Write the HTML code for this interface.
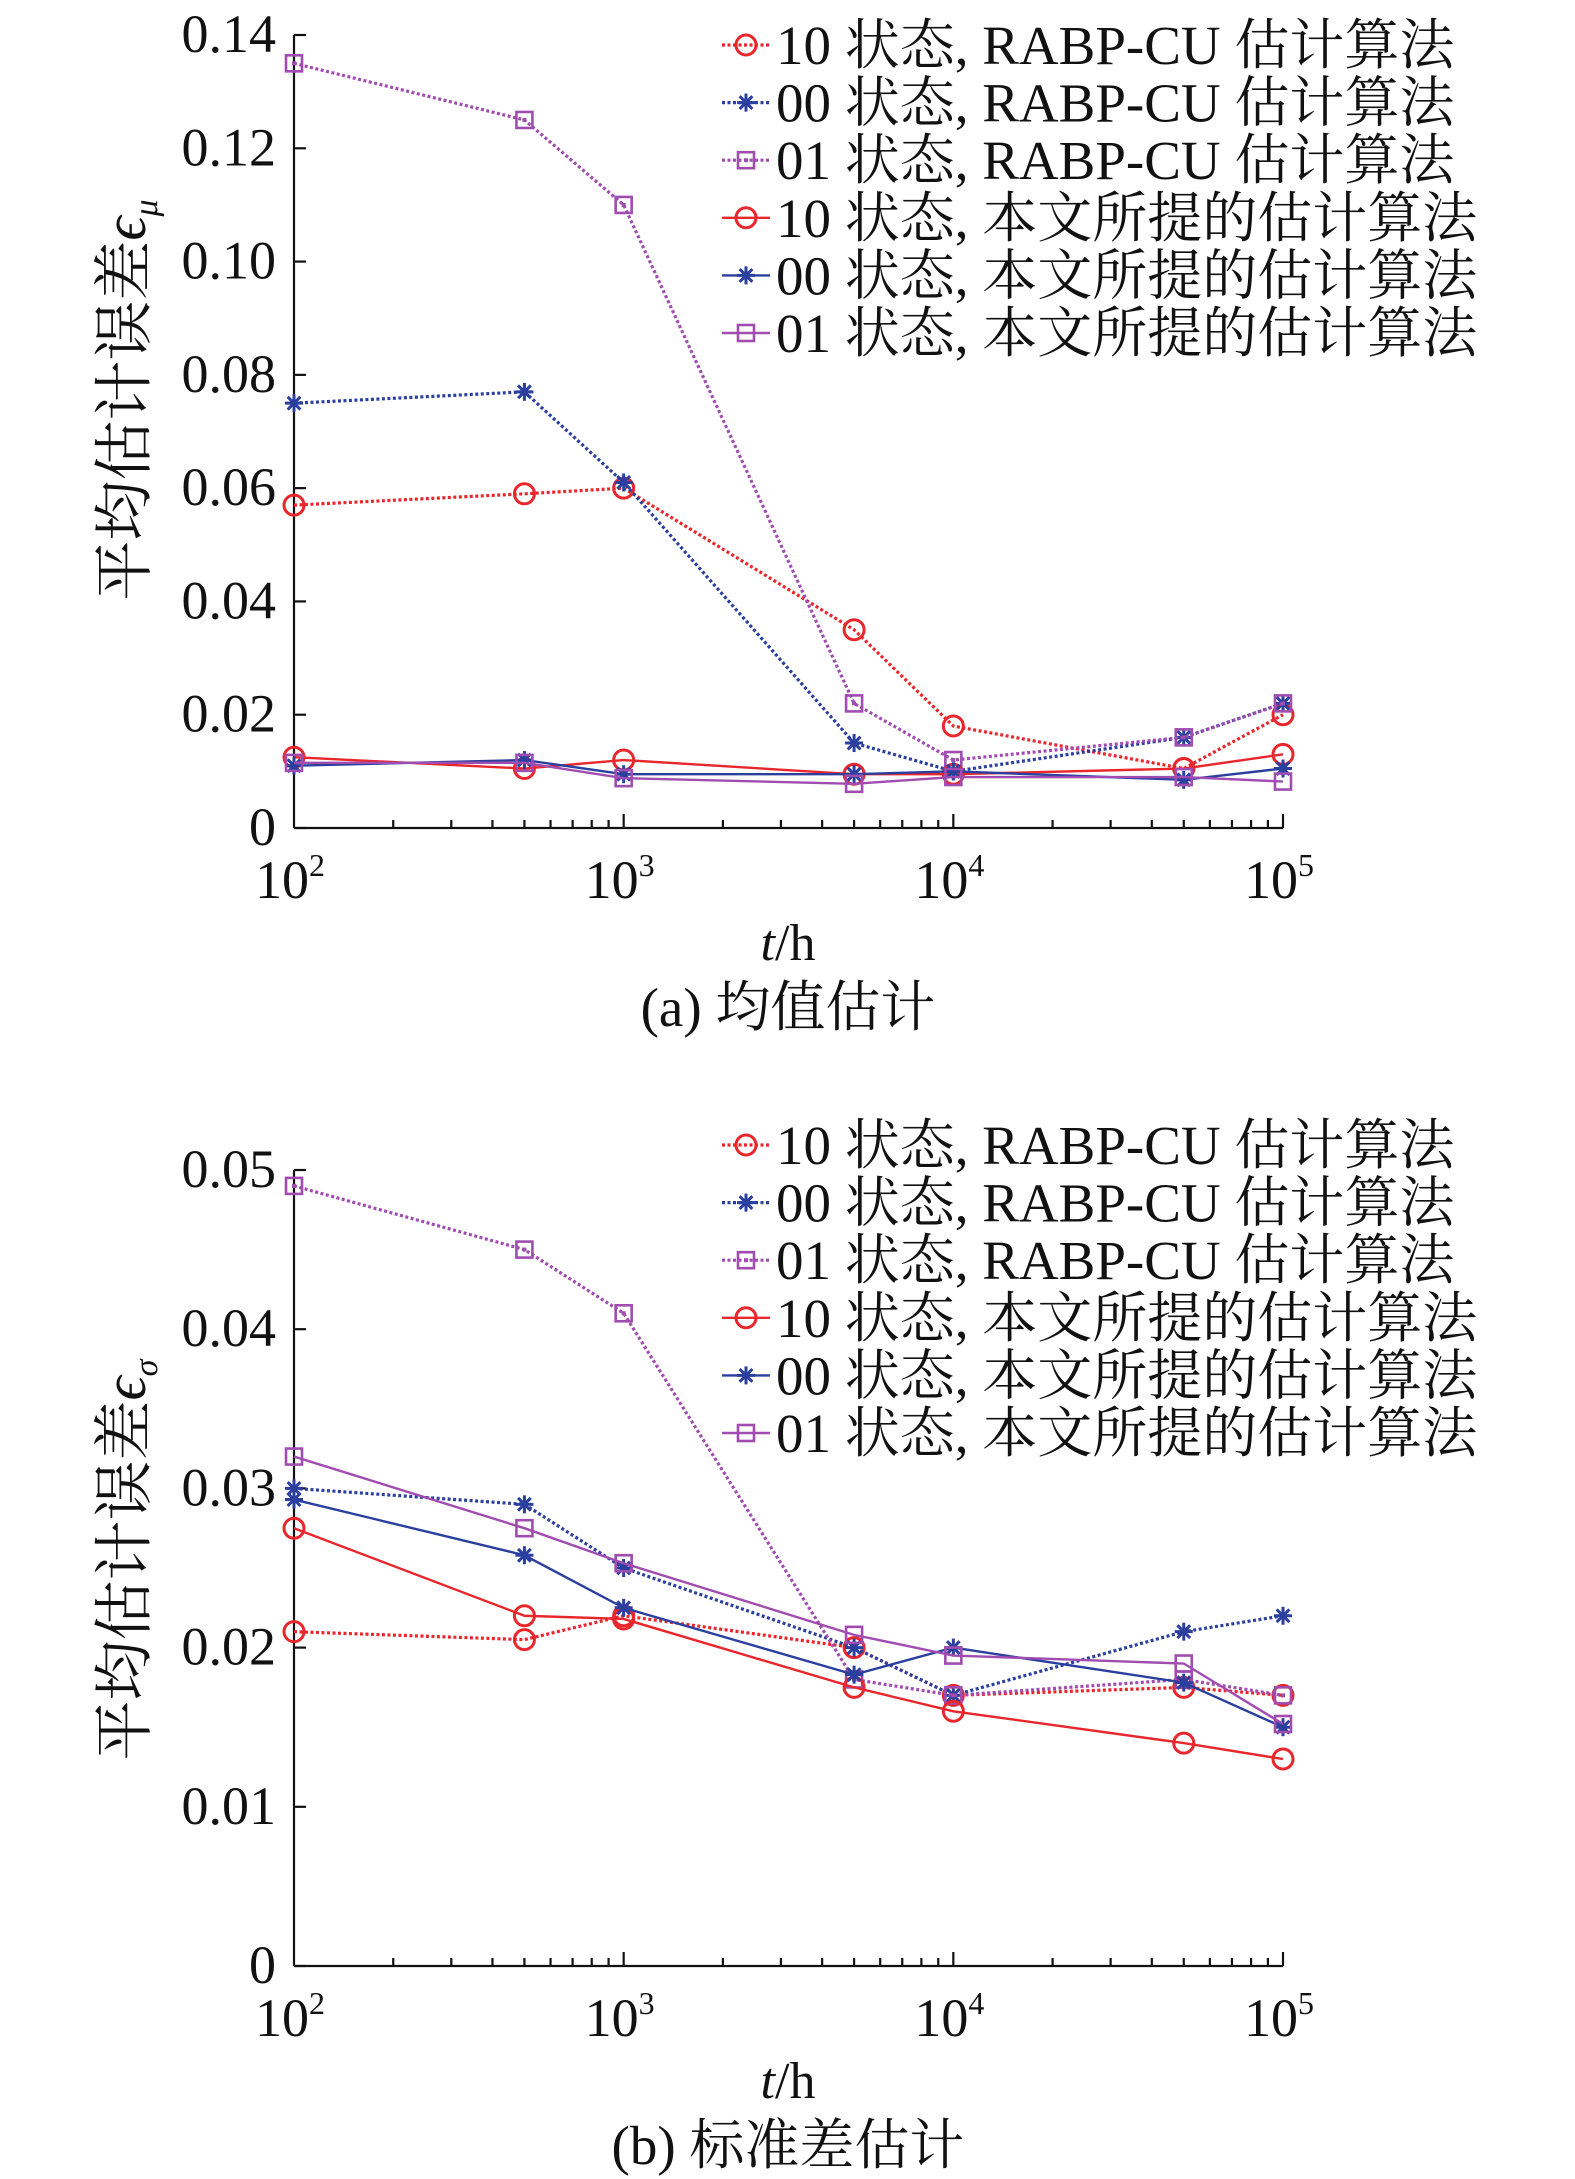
<!DOCTYPE html>
<html><head><meta charset="utf-8"><style>
html,body{margin:0;padding:0;background:#fff}
svg{display:block}
text{font-family:"Liberation Serif","Noto Serif CJK SC",serif;fill:#111}
</style></head><body>
<svg id="fig" width="1575" height="2179" viewBox="0 0 1575 2179" xmlns="http://www.w3.org/2000/svg"></svg>
<script>
const xValues=[100,500,1000,5000,10000,50000,100000];
const seriesNames=["10 状态, RABP-CU 估计算法","00 状态, RABP-CU 估计算法","01 状态, RABP-CU 估计算法","10 状态, 本文所提的估计算法","00 状态, 本文所提的估计算法","01 状态, 本文所提的估计算法"];
const meanR10=[0.057,0.059,0.060,0.035,0.018,0.0105,0.020];
const meanR00=[0.075,0.077,0.061,0.015,0.010,0.016,0.022];
const meanR01=[0.135,0.125,0.110,0.022,0.012,0.016,0.022];
const meanP10=[0.0125,0.0105,0.012,0.0095,0.0095,0.0105,0.013];
const meanP00=[0.011,0.012,0.0095,0.0095,0.010,0.0085,0.0105];
const meanP01=[0.0115,0.0115,0.0088,0.0078,0.009,0.009,0.0082];
const stdR10=[0.021,0.0205,0.022,0.020,0.017,0.0175,0.017];
const stdR00=[0.030,0.029,0.025,0.020,0.017,0.021,0.022];
const stdR01=[0.049,0.045,0.041,0.018,0.017,0.018,0.017];
const stdP10=[0.0275,0.022,0.0218,0.0175,0.016,0.014,0.013];
const stdP00=[0.0293,0.0258,0.0225,0.0183,0.020,0.0178,0.015];
const stdP01=[0.032,0.0275,0.0253,0.0208,0.0195,0.019,0.0152];
const meanTicks=[0,0.02,0.04,0.06,0.08,0.10,0.12,0.14];
const meanTickLabels=["0","0.02","0.04","0.06","0.08","0.10","0.12","0.14"];
const stdTicks=[0,0.01,0.02,0.03,0.04,0.05];
const stdTickLabels=["0","0.01","0.02","0.03","0.04","0.05"];
const xTickExp=[2,3,4,5];

const NS="http://www.w3.org/2000/svg";
const svg=document.getElementById('fig');
const RED="#e8262b",BLUE="#2b3f9e",PUR="#a04cb0";
const styles=[{c:RED,m:'o',d:true},{c:BLUE,m:'*',d:true},{c:PUR,m:'s',d:true},{c:RED,m:'o',d:false},{c:BLUE,m:'*',d:false},{c:PUR,m:'s',d:false}];
function el(tag,attrs,parent){const e=document.createElementNS(NS,tag);for(const k in attrs)e.setAttribute(k,attrs[k]);(parent||svg).appendChild(e);return e;}
function marker(g,m,c,x,y){
  if(m==='o'){const e=el('circle',{cx:x,cy:y,r:10,fill:'none',stroke:c,'stroke-width':3},g);}
  else if(m==='s'){const e=el('rect',{x:x-8,y:y-8,width:16,height:16,fill:'none',stroke:c,'stroke-width':2.6},g);if(g.dataset.dot==='1'){el('rect',{x:x-2,y:y-2,width:4,height:4,fill:c},g);}}
  else{const gg=el('g',{stroke:c,'stroke-width':3},g);
    for(let a=0;a<4;a++){const t=a*Math.PI/4;el('line',{x1:x-9*Math.cos(t),y1:y-9*Math.sin(t),x2:x+9*Math.cos(t),y2:y+9*Math.sin(t)},gg);}}
}
function chart(name,cfg){
  const g=el('g',{});
  const X0=294,X1=1283;
  const xs=v=>X0+(Math.log10(v)-2)/3*(X1-X0);
  const ys=v=>cfg.y0-v/cfg.ymax*(cfg.y0-cfg.ytop);
  const ax=el('g',{stroke:'#111','stroke-width':2.2,fill:'none'},g);
  el('line',{x1:X0,y1:cfg.y0,x2:X1,y2:cfg.y0},ax);
  el('line',{x1:X0,y1:cfg.y0,x2:X0,y2:cfg.ytop},ax);
  cfg.ticks.forEach((t,i)=>{const y=ys(t);el('line',{x1:X0,y1:y,x2:X0+12,y2:y},ax);
    const tx=el('text',{x:276,y:y+17,'text-anchor':'end','font-size':54},g);tx.textContent=cfg.labels[i];
    });
  for(let d=2;d<5;d++)for(let k=2;k<=10;k++){const x=xs(k*Math.pow(10,d));el('line',{x1:x,y1:cfg.y0,x2:x,y2:cfg.y0-(k===10?14:8)},ax);}
  xTickExp.forEach(p=>{const x=xs(Math.pow(10,p));const t=el('text',{x:x-4,y:cfg.y0+70,'text-anchor':'middle','font-size':54},g);
    t.textContent='10';const s=el('tspan',{dy:-22,'font-size':32},t);s.textContent=p;
    });
  const xt=el('text',{x:788,y:cfg.y0+132,'text-anchor':'middle','font-size':52},g);xt.innerHTML='<tspan font-style="italic">t</tspan>/h';
  
  const cap=el('text',{x:788,y:cfg.y0+198,'text-anchor':'middle','font-size':55},g);cap.textContent=cfg.caption;
  
  const yt=el('text',{x:0,y:0,'text-anchor':'middle','font-size':60,transform:`translate(145 ${cfg.ytc}) rotate(-90)`},g);
  yt.innerHTML='平均估计误差<tspan font-style="italic">ϵ</tspan><tspan font-style="italic" font-size="34" dy="12">'+cfg.sub+'</tspan>';
  
  cfg.data.forEach((arr,i)=>{const st=styles[i];
    const sg=el('g',{},g);if(st.d)sg.dataset.dot='1';
    const pts=arr.map((v,j)=>xs(xValues[j])+','+ys(v)).join(' ');
    const pl=el('polyline',{points:pts,fill:'none',stroke:st.c,'stroke-width':st.d?3.2:2.4,'stroke-dasharray':st.d?'3 2.5':'none'},sg);
    
    arr.forEach((v,j)=>marker(sg,st.m,st.c,xs(xValues[j]),ys(v)));
  });
  const lg=el('g',{},g);
  seriesNames.forEach((n,i)=>{const st=styles[i];const y=cfg.leg0+i*57.6;
    const eg=el('g',{},lg);if(st.d)eg.dataset.dot='1';
    el('line',{x1:722,y1:y,x2:770,y2:y,stroke:st.c,'stroke-width':st.d?3.2:2.4,'stroke-dasharray':st.d?'3 2.5':'none'},eg);
    marker(eg,st.m,st.c,746,y);
    const t=el('text',{x:776,y:y+19,'font-size':55},eg);t.textContent=n;});
}
chart('mean-chart',{y0:828,ytop:35,ymax:0.14,ticks:meanTicks,labels:meanTickLabels,caption:'(a) 均值估计',sub:'μ',ytc:400,leg0:45,
  data:[meanR10,meanR00,meanR01,meanP10,meanP00,meanP01]});
chart('std-chart',{y0:1966,ytop:1170,ymax:0.05,ticks:stdTicks,labels:stdTickLabels,caption:'(b) 标准差估计',sub:'σ',ytc:1560,leg0:1145,
  data:[stdR10,stdR00,stdR01,stdP10,stdP00,stdP01]});
</script>
</body></html>
